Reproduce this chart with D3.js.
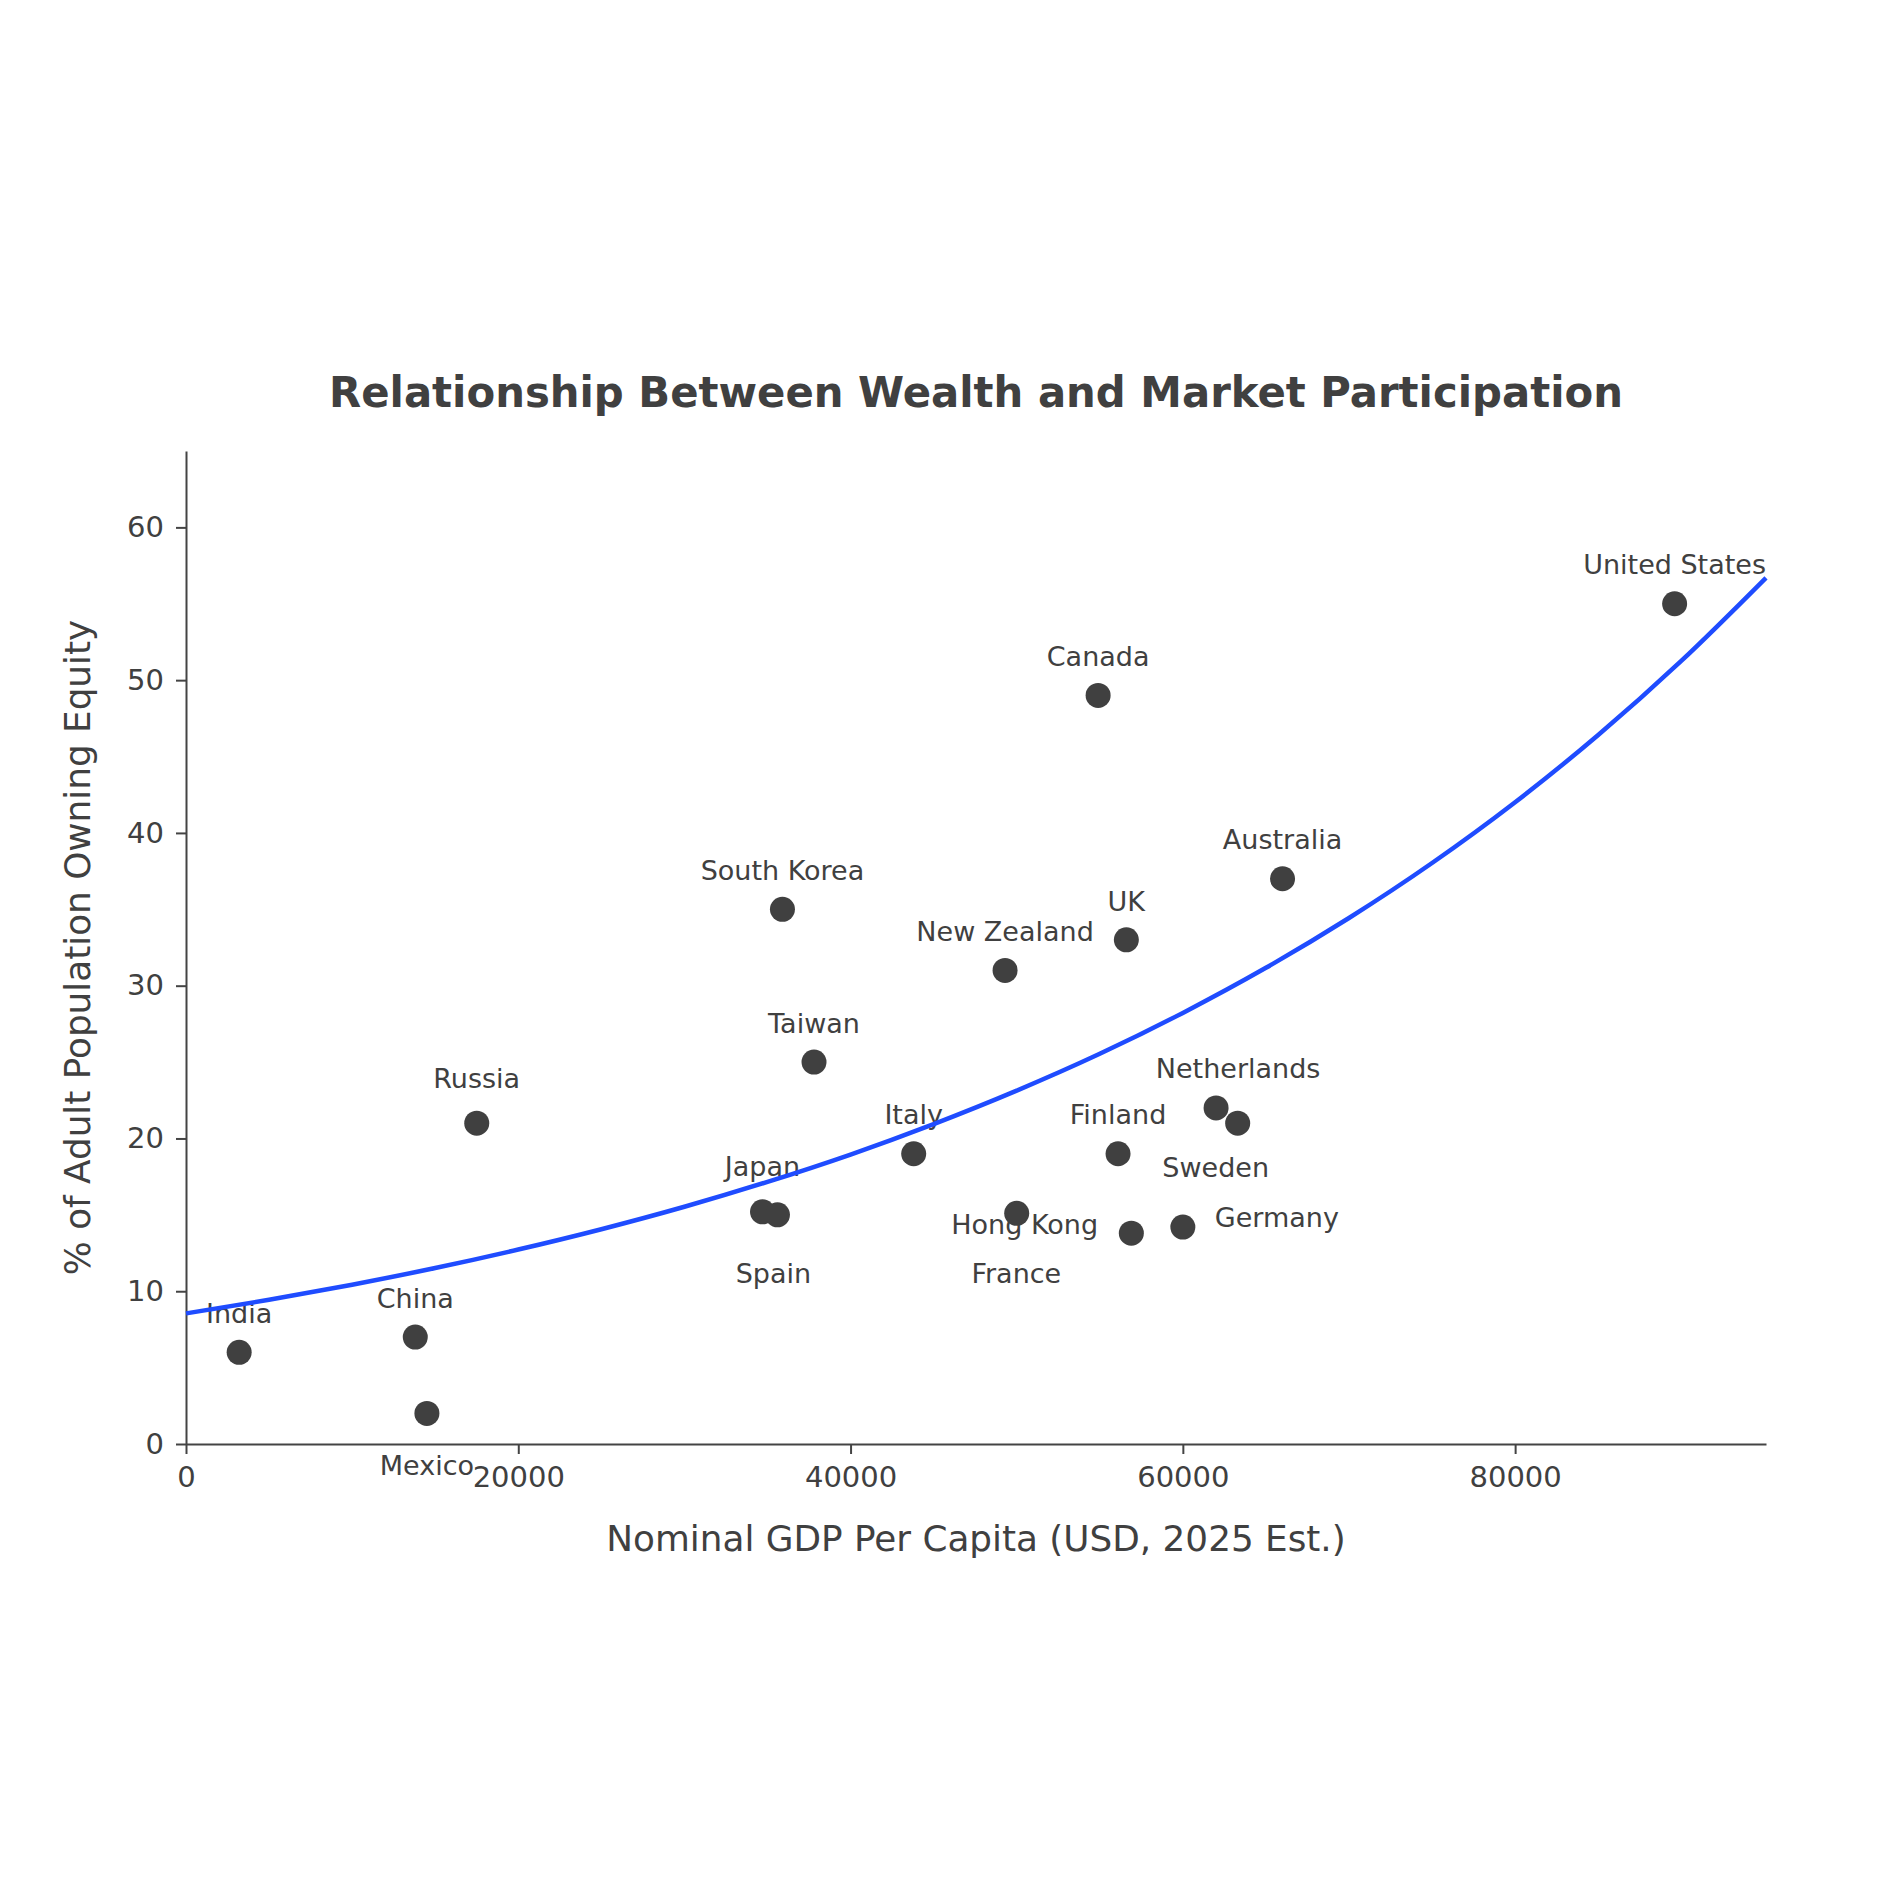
<!DOCTYPE html>
<html>
<head>
<meta charset="utf-8">
<script src="https://cdn.jsdelivr.net/npm/d3@7"></script>
<style>
  html, body { margin: 0; padding: 0; background: #ffffff; }
  svg { display: block; }
  text { font-family: "DejaVu Sans", sans-serif; fill: #404040; }
</style>
</head>
<body>
<div id="chart"></div>
<script>
// ---------------- data ----------------
const countries = ["India", "China", "Mexico", "Russia", "Japan", "Spain", "South Korea", "Taiwan",
  "Italy", "New Zealand", "Hong Kong", "Canada", "Finland", "UK", "France", "Germany",
  "Netherlands", "Sweden", "Australia", "United States"];
const gdpPerCapita = [3200, 13800, 14500, 17500, 34700, 35600, 35900, 37800,
  43800, 49300, 50000, 54900, 56100, 56600, 56900, 60000,
  62000, 63300, 66000, 89600];
const equityOwnership = [6, 7, 2, 21, 15.2, 15, 35, 25,
  19, 31, 15.1, 49, 19, 33, 13.8, 14.2,
  22, 21, 37, 55];

// trend curve
const trendX = [0, 5000, 10000, 15000, 20000, 25000, 30000, 35000, 40000, 45000, 50000,
  55000, 60000, 65000, 70000, 75000, 80000, 85000, 90000, 95100];
const trendY = [8.55, 9.44, 10.43, 11.52, 12.73, 14.06, 15.53, 17.16, 18.95, 20.94, 23.13,
  25.54, 28.22, 31.17, 34.43, 38.03, 42.01, 46.41, 51.26, 56.7];

const xTicks = [0, 20000, 40000, 60000, 80000];
const yTicks = [0, 10, 20, 30, 40, 50, 60];

const titleText = "Relationship Between Wealth and Market Participation";
const xLabel = "Nominal GDP Per Capita (USD, 2025 Est.)";
const yLabel = "% of Adult Population Owning Equity";

// ---------------- layout ----------------
const W = 1900, H = 1900;
const plotLeft = 186, plotRight = 1766, plotTop = 451, plotBottom = 1444;
const defaultLabelOffset = [0, -39];
const labelOffsets = {
  "Russia": [0, -45],
  "Japan": [0, -46],
  "Spain": [-4, 58],
  "Mexico": [0, 52],
  "Hong Kong": [8, 11],
  "France": [-115, 40],
  "Germany": [94, -10],
  "Netherlands": [22, -40],
  "Sweden": [-22, 44]
};

const svg = d3.select("#chart").append("svg")
  .attr("width", W).attr("height", H);

const x = d3.scaleLinear().domain([0, 95100]).range([plotLeft, plotRight]);
const y = d3.scaleLinear().domain([0, 65]).range([plotBottom, plotTop]);

// axes
const xAxis = svg.append("g")
  .attr("transform", `translate(0,${plotBottom})`)
  .call(d3.axisBottom(x).tickValues(xTicks).tickFormat(d3.format("d"))
    .tickSize(10).tickSizeOuter(0).tickPadding(12));
const yAxis = svg.append("g")
  .attr("transform", `translate(${plotLeft},0)`)
  .call(d3.axisLeft(y).tickValues(yTicks).tickFormat(d3.format("d"))
    .tickSize(10).tickSizeOuter(0).tickPadding(12));

[xAxis, yAxis].forEach(g => {
  g.select(".domain").attr("stroke", "#444444").attr("stroke-width", 2);
  g.selectAll(".tick line").attr("stroke", "#444444").attr("stroke-width", 2);
  g.selectAll(".tick text").attr("fill", "#404040")
    .style("font-size", "29px").style("font-family", "DejaVu Sans, sans-serif");
});

const pts = countries.map((c, i) => ({ name: c, gx: gdpPerCapita[i], gy: equityOwnership[i] }));

// labels
svg.append("g").selectAll("text").data(pts).join("text")
  .attr("x", d => x(d.gx) + (labelOffsets[d.name] || defaultLabelOffset)[0])
  .attr("y", d => y(d.gy) + (labelOffsets[d.name] || defaultLabelOffset)[1])
  .attr("dy", "0.36em")
  .attr("text-anchor", "middle")
  .style("font-size", "27px")
  .text(d => d.name);

// trend line
const trend = trendX.map((v, i) => [v, trendY[i]]);
svg.append("path")
  .datum(trend)
  .attr("fill", "none")
  .attr("stroke", "#1f4cff")
  .attr("stroke-width", 4.5)
  .attr("d", d3.line().x(d => x(d[0])).y(d => y(d[1])).curve(d3.curveMonotoneX));

// points
svg.append("g").selectAll("circle").data(pts).join("circle")
  .attr("cx", d => x(d.gx))
  .attr("cy", d => y(d.gy))
  .attr("r", 12.5)
  .attr("fill", "#404040");

// title & axis labels
svg.append("text")
  .attr("x", (plotLeft + plotRight) / 2).attr("y", 407)
  .attr("text-anchor", "middle")
  .style("font-size", "41.8px").style("font-weight", "bold")
  .text(titleText);

svg.append("text")
  .attr("x", (plotLeft + plotRight) / 2).attr("y", 1551)
  .attr("text-anchor", "middle")
  .style("font-size", "35.8px")
  .text(xLabel);

svg.append("text")
  .attr("transform", `translate(90,${(plotTop + plotBottom) / 2}) rotate(-90)`)
  .attr("text-anchor", "middle")
  .style("font-size", "35.8px")
  .text(yLabel);
</script>
</body>
</html>
